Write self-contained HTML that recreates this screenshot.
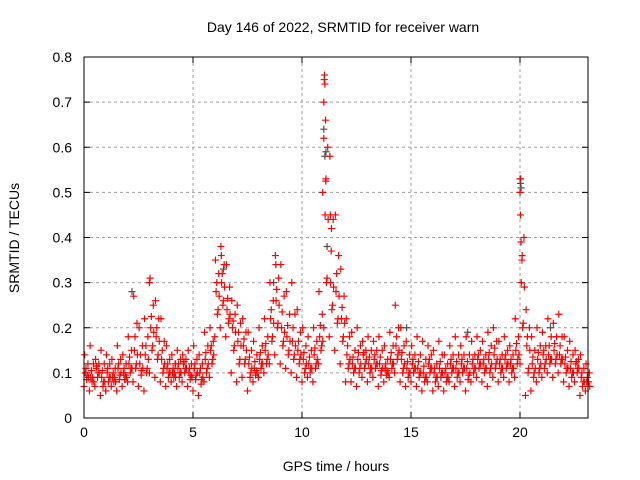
<!DOCTYPE html>
<html><head><meta charset="utf-8"><style>
body{margin:0;background:#fff;}
svg{display:block;font-family:"Liberation Sans",sans-serif;}
</style></head><body>
<svg id="chart" width="640" height="480" viewBox="0 0 640 480">
<rect width="640" height="480" fill="#fff"/>
<text x="343" y="32" font-size="14" text-anchor="middle">Day 146 of 2022, SRMTID for receiver warn</text>
<text transform="translate(19,238) rotate(-90)" font-size="14" text-anchor="middle">SRMTID / TECUs</text>
<text x="336" y="471" font-size="14" text-anchor="middle">GPS time / hours</text>
<g id="grid"></g><g id="ticks"></g><g id="gray"></g><g id="red"></g>
<rect x="84" y="57" width="504" height="361" fill="none" stroke="#000" stroke-width="1"/>
</svg>
<script>
const xTicks=[0,5,10,15,20];
const yTicks=[0,0.1,0.2,0.3,0.4,0.5,0.6,0.7,0.8];
const yTickLabels=["0","0.1","0.2","0.3","0.4","0.5","0.6","0.7","0.8"];
const times=[0,0.25,0.5,0.75,1,1.25,1.5,1.75,2,2.25,2.5,2.75,3,3.25,3.5,3.75,4,4.25,4.5,4.75,5,5.25,5.5,5.75,6,6.25,6.5,6.75,7,7.25,7.5,7.75,8,8.25,8.5,8.75,9,9.25,9.5,9.75,10,10.25,10.5,10.75,11,11.25,11.5,11.75,12,12.25,12.5,12.75,13,13.25,13.5,13.75,14,14.25,14.5,14.75,15,15.25,15.5,15.75,16,16.25,16.5,16.75,17,17.25,17.5,17.75,18,18.25,18.5,18.75,19,19.25,19.5,19.75,20,20.25,20.5,20.75,21,21.25,21.5,21.75,22,22.25,22.5,22.75,23];
const lo=[.07,.06,.07,.05,.06,.07,.06,.07,.08,.08,.07,.06,.10,.09,.08,.07,.08,.07,.08,.07,.06,.05,.08,.09,.18,.20,.18,.10,.08,.09,.06,.08,.09,.10,.12,.14,.12,.11,.10,.09,.08,.09,.08,.12,.20,.18,.15,.12,.08,.08,.07,.09,.08,.09,.07,.08,.09,.10,.08,.07,.08,.07,.06,.08,.06,.07,.06,.08,.07,.08,.06,.08,.09,.08,.07,.09,.08,.09,.08,.09,.12,.05,.06,.08,.09,.10,.09,.10,.08,.07,.08,.05,.06];
const lo2=[.085,.08,.09,.07,.08,.08,.085,.085,.10,.11,.095,.10,.15,.13,.10,.09,.09,.09,.10,.085,.085,.075,.10,.12,.23,.25,.21,.15,.12,.12,.09,.095,.11,.12,.17,.20,.16,.14,.13,.12,.10,.10,.11,.15,.30,.24,.21,.17,.11,.10,.10,.11,.10,.11,.095,.095,.11,.13,.10,.09,.10,.09,.08,.10,.08,.09,.08,.10,.09,.10,.085,.10,.11,.10,.10,.11,.10,.11,.10,.12,.20,.10,.09,.10,.11,.12,.12,.12,.10,.09,.10,.07,.07];
const mid=[.10,.09,.11,.09,.10,.09,.11,.10,.12,.15,.12,.14,.20,.18,.13,.11,.10,.11,.12,.10,.11,.10,.13,.15,.28,.30,.24,.20,.17,.16,.12,.11,.13,.15,.22,.26,.20,.18,.17,.15,.13,.12,.14,.18,.45,.30,.28,.22,.14,.12,.13,.14,.12,.13,.12,.11,.13,.16,.13,.11,.12,.11,.10,.12,.10,.11,.10,.12,.11,.12,.11,.12,.13,.12,.13,.14,.12,.13,.12,.15,.30,.16,.12,.13,.14,.14,.15,.14,.12,.11,.12,.09,.08];
const hi2=[.12,.12,.12,.12,.12,.11,.13,.12,.15,.21,.16,.18,.25,.22,.17,.13,.12,.13,.13,.12,.13,.12,.16,.17,.32,.34,.29,.23,.21,.19,.15,.14,.16,.18,.26,.31,.27,.23,.23,.19,.16,.15,.17,.23,.60,.44,.36,.27,.18,.15,.16,.15,.15,.15,.15,.13,.16,.20,.16,.14,.14,.14,.13,.14,.12,.14,.12,.14,.14,.14,.14,.14,.15,.14,.16,.17,.14,.15,.14,.18,.40,.20,.15,.16,.16,.18,.18,.18,.15,.14,.13,.11,.10];
const hi=[.14,.16,.13,.15,.14,.13,.16,.14,.18,.27,.20,.22,.31,.26,.22,.16,.14,.15,.14,.15,.16,.14,.19,.20,.35,.38,.34,.26,.25,.22,.19,.17,.20,.22,.30,.36,.34,.28,.30,.24,.20,.18,.20,.28,.76,.58,.45,.33,.22,.19,.20,.17,.18,.17,.18,.16,.19,.25,.20,.17,.16,.18,.17,.16,.15,.17,.14,.16,.18,.16,.18,.17,.18,.17,.19,.20,.17,.18,.16,.22,.53,.24,.18,.20,.19,.22,.21,.23,.18,.17,.15,.14,.12];
const spikeT=[11.02,11.05,11.0,11.08,11.0,11.1,10.95,11.3,11.35,20.0,20.02,20.05,20.1,6.3,8.8,3.0];
const spikeV=[.75,.74,.70,.66,.62,.53,.50,.45,.42,.50,.45,.39,.36,.36,.34,.30];
const grayT=[11.0,11.05,11.1,11.15,20.0,20.02,20.05,2.2,8.7,6.4,14.8,17.6,21.4,4.2,1.0];
const grayV=[.64,.58,.59,.38,.53,.52,.51,.28,.30,.33,.20,.19,.20,.12,.06];
const X=t=>84+t*21.8;
const Y=v=>418-v*451.25;
const NS="http://www.w3.org/2000/svg";
const grid=document.getElementById('grid'),tk=document.getElementById('ticks');
function mk(tag,a,p){const e=document.createElementNS(NS,tag);for(const k in a)e.setAttribute(k,a[k]);p.appendChild(e);return e;}
xTicks.forEach(t=>{const x=X(t);
 if(t>0){const g=mk('line',{x1:x,x2:x,y1:57,y2:418,stroke:'#a0a0a0','stroke-dasharray':'3,3'},grid);
 
 }
 mk('line',{x1:x,x2:x,y1:418,y2:412,stroke:'#000'},tk);mk('line',{x1:x,x2:x,y1:57,y2:63,stroke:'#000'},tk);
 const l=mk('text',{x:x,y:437,'font-size':14,'text-anchor':'middle'},tk);l.textContent=t;
 
 });
yTicks.forEach((v,i)=>{const y=Y(v);
 if(i>0&&i<yTicks.length-1){const g=mk('line',{x1:84,x2:588,y1:y,y2:y,stroke:'#a0a0a0','stroke-dasharray':'3,3'},grid);
 
 }
 mk('line',{x1:84,x2:90,y1:y,y2:y,stroke:'#000'},tk);mk('line',{x1:588,x2:582,y1:y,y2:y,stroke:'#000'},tk);
 const l=mk('text',{x:72,y:y+5,'font-size':14,'text-anchor':'end'},tk);l.textContent=yTickLabels[i];
 
 });
function plus(t,v,col,g){const x=X(t),y=Y(v);
 const p=mk('path',{d:`M${x-3.5} ${y}H${x+3.5}M${x} ${y-3.5}V${y+3.5}`,stroke:col,'stroke-width':1.2,fill:'none'},g);
 
 }
const gG=document.getElementById('gray'),gR=document.getElementById('red');
grayT.forEach((t,i)=>plus(t,grayV[i],'#505050',gG));
times.forEach((t,i)=>{
 plus(t,lo[i],'#ff0000',gR);
 plus(t+0.12,lo2[i],'#ff0000',gR);
 plus(t+0.06,mid[i],'#ff0000',gR);
 plus(t+0.18,hi2[i],'#ff0000',gR);
 plus(t+0.03,hi[i],'#ff0000',gR);
 plus(t+0.2,mid[i]-0.01,'#ff0000',gR);
 plus(t+0.15,lo2[i]+0.01,'#ff0000',gR);
 plus(t+0.09,(hi2[i]+mid[i])/2,'#ff0000',gR);
});
spikeT.forEach((t,i)=>plus(t,spikeV[i],'#ff0000',gR));
</script>
</body></html>
